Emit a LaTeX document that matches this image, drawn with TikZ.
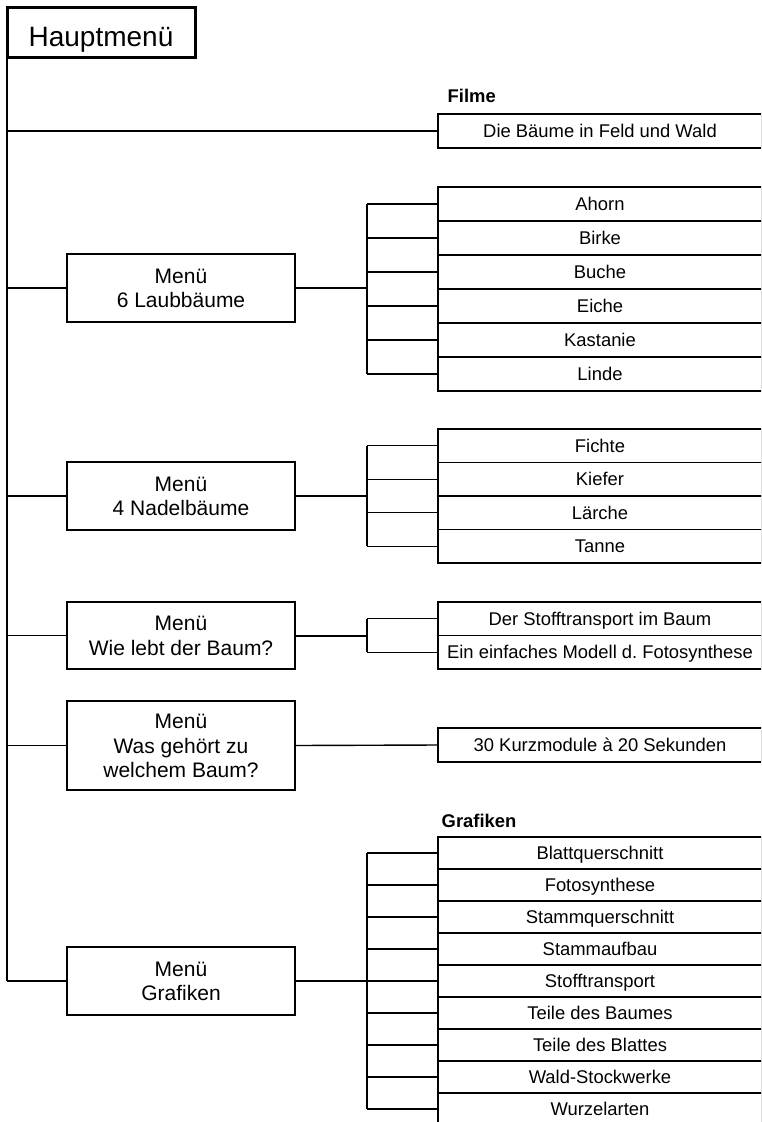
\documentclass[tikz,border=0pt]{standalone}
\usepackage{fontspec}
\setmainfont{Liberation Sans}
\begin{document}
\begin{tikzpicture}[x=1pt, y=-1pt, line width=1.4pt,
        mainbox/.style={draw, line width=3pt, outer sep=0pt, minimum width=188pt, minimum height=50pt, inner sep=0pt, text height=29.4pt, text depth=0pt, font=\fontsize{28}{32}\selectfont},
        menubox/.style={draw, outer sep=0pt, minimum width=228pt, inner sep=0pt, align=center, text height=39.5pt, text depth=0pt, font=\fontsize{21}{24.5}\selectfont},
        leafbox/.style={draw, outer sep=0pt, minimum width=324pt, minimum height=#1, inner sep=0pt, text height=13.2pt, text depth=0pt, font=\fontsize{18.4}{21}\selectfont},
        leafbox/.default=34pt,
        heading/.style={anchor=base west, inner sep=0pt, font=\fontsize{18.4}{21}\selectfont\bfseries},
        trunk/.style={line width=2pt},
        feed/.style={line width=2pt}]
        \path[use as bounding box, clip] (0,0) rectangle (761,1122);
        % main menu
        \node[mainbox] (haupt) at (101,32) {Hauptmenü};
        % sub menus
        \node[menubox, minimum height=68pt] (laub)   at (181,288)   {Menü\\6 Laubbäume};
        \node[menubox, minimum height=68pt] (nadel)  at (181,496)   {Menü\\4 Nadelbäume};
        \node[menubox, minimum height=67pt] (leben)  at (181,635.5) {Menü\\Wie lebt der Baum?};
        \node[menubox, minimum height=89pt, text height=64pt] (welch) at (181,745.5) {Menü\\Was gehört zu\\welchem Baum?};
        \node[menubox, minimum height=68pt] (grafik) at (181,981)   {Menü\\Grafiken};
        % films
        \node[heading] (filme) at (447,102) {Filme};
        \node[leafbox] (feld) at (600,131) {Die Bäume in Feld und Wald};
        % leaves of the sub menus
        \foreach \name [count=\i] in {Ahorn,Birke,Buche,Eiche,Kastanie,Linde}
            \node[leafbox] (lb\i) at (600,{170+34*\i}) {\name};
        \foreach \name [count=\i] in {Fichte,Kiefer,Lärche,Tanne}
            \node[leafbox=33.5pt] (nb\i) at (600,{412.25+33.5*\i}) {\name};
        \node[leafbox=33.5pt] (wl1) at (600,618.75) {Der Stofftransport im Baum};
        \node[leafbox=33.5pt] (wl2) at (600,652.25) {Ein einfaches Modell d.\ Fotosynthese};
        \node[leafbox] (kurz) at (600,745) {30 Kurzmodule à 20 Sekunden};
        \node[heading] (grafiken) at (441,827) {Grafiken};
        \foreach \name [count=\i] in {Blattquerschnitt,Fotosynthese,Stammquerschnitt,Stammaufbau,Stofftransport,Teile des Baumes,Teile des Blattes,Wald-Stockwerke,Wurzelarten}
            \node[leafbox=32pt] (gr\i) at (600,{821+32*\i}) {\name};
        % trunk and branches
        \draw[trunk] (haupt.south west) -- (haupt.south west |- grafik.west);
        \draw (haupt.south west |- feld.west) -- (feld.west);
        \foreach \m in {laub,nadel,leben,welch,grafik}
            \draw (haupt.south west |- \m.west) -- (\m.west);
        % menus to leaves
        \draw[feed] (laub.east) -- ++(72,0) coordinate (lbk);
        \draw (lbk |- lb1.west) -- (lbk |- lb6.west);
        \foreach \i in {1,...,6} \draw (lbk |- lb\i.west) -- (lb\i.west);
        \draw[feed] (nadel.east) -- ++(72,0) coordinate (nbk);
        \draw (nbk |- nb1.west) -- (nbk |- nb4.west);
        \foreach \i in {1,...,4} \draw (nbk |- nb\i.west) -- (nb\i.west);
        \draw[feed] (leben.east) -- ++(72,0) coordinate (wbk);
        \draw (wbk |- wl1.west) -- (wbk |- wl2.west);
        \foreach \i in {1,2} \draw (wbk |- wl\i.west) -- (wl\i.west);
        \draw (welch.east) -- (kurz.west);
        \draw[feed] (grafik.east) -- ++(72,0) coordinate (gbk);
        \draw (gbk |- gr1.west) -- (gbk |- gr9.west);
        \foreach \i in {1,...,9} \draw (gbk |- gr\i.west) -- (gr\i.west);
\end{tikzpicture}
\end{document}
